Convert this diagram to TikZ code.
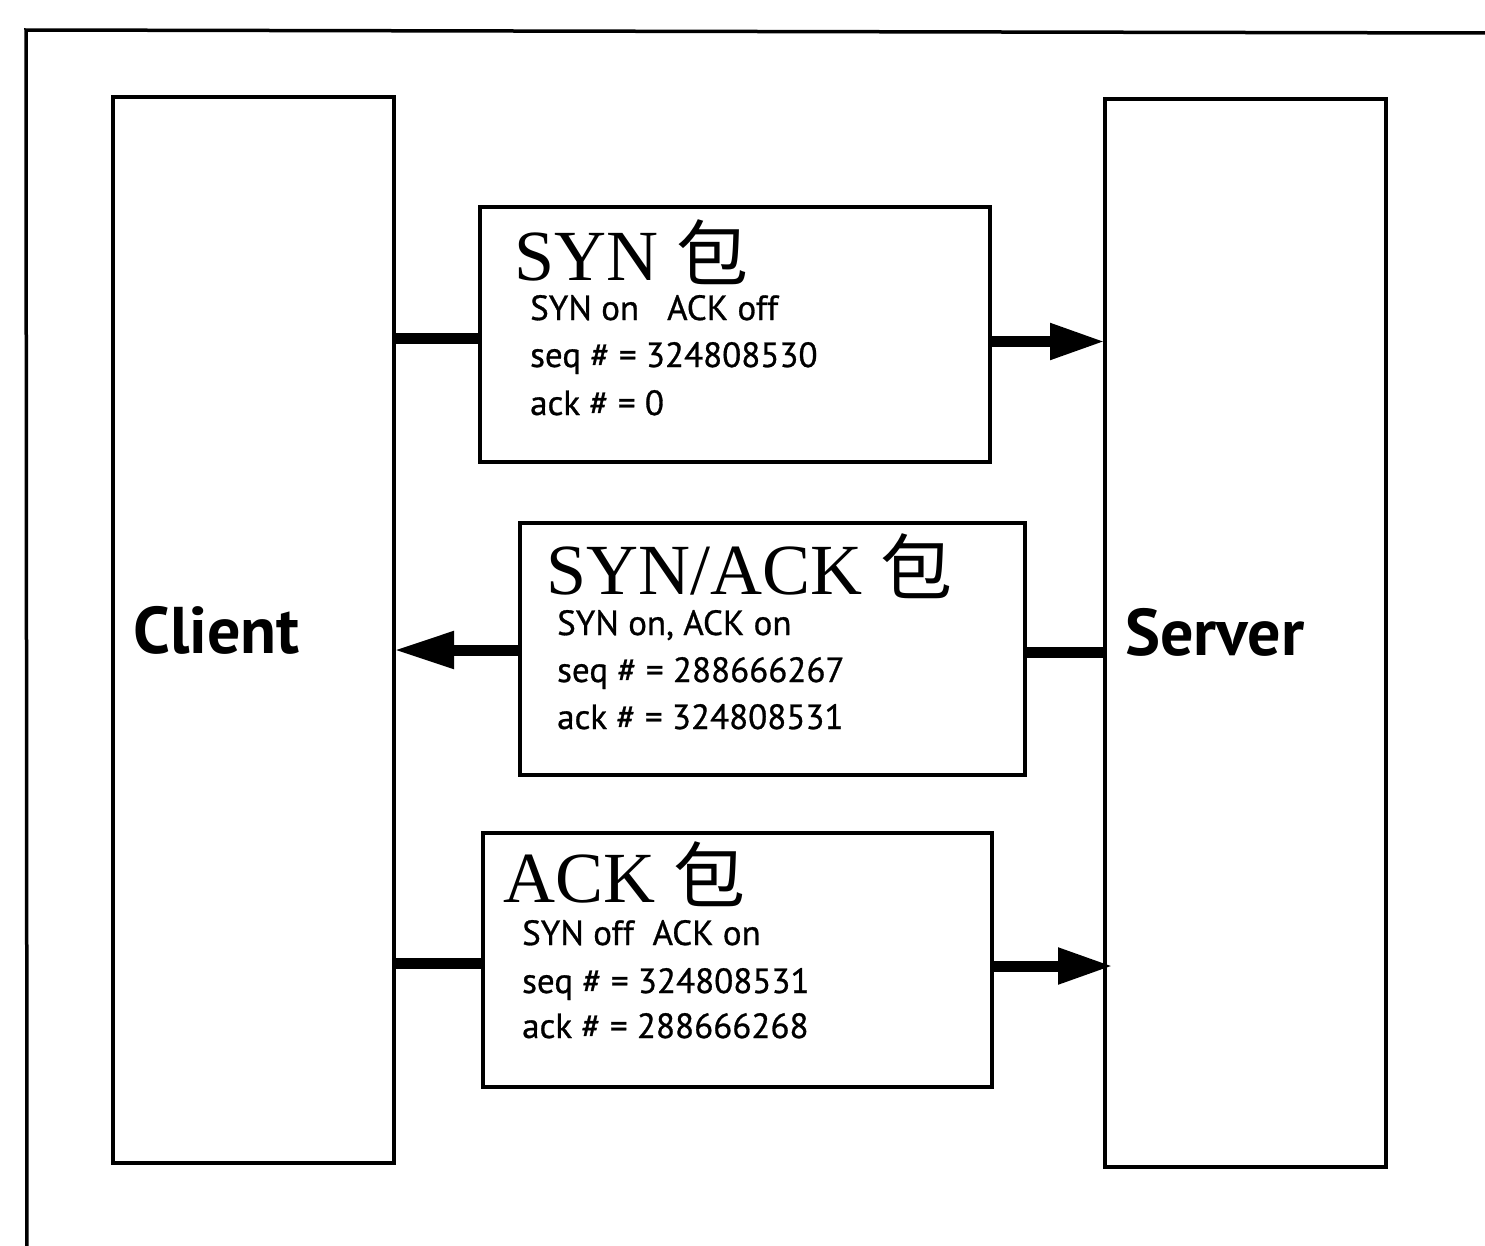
\documentclass[tikz,border=0pt]{standalone}
\usepackage{fontspec}
\setmainfont{Liberation Serif}
\newfontfamily\cjk{Noto Sans CJK SC}
\newfontfamily\fieldfont[FakeBold=0.8]{PT Sans}
\newfontfamily\hostfont{PT Sans}
\usetikzlibrary{arrows.meta}

\begin{document}
\begin{tikzpicture}[x=1pt,y=-1pt,
  frame/.style={line width=3.5pt},
  box/.style={draw, line width=3.5pt, inner sep=0pt, outer sep=0pt},
  conn/.style={line width=11pt},
  head/.style={-{Triangle[length=55pt,width=34pt]}},
  title/.style={anchor=base west, inner sep=0pt, font=\fontsize{72}{80}\selectfont},
  field/.style={anchor=base west, inner sep=0pt, font=\fieldfont\fontsize{35}{40}\selectfont},
  side/.style={anchor=base west, inner sep=0pt, font=\hostfont\bfseries\fontsize{66}{70}\selectfont},
]
\useasboundingbox (0,0) rectangle (1485,1245);
\fill[white] (0,0) rectangle (1485,1245);

% outer frame (runs off the page on the right and bottom)
\draw[frame] (1490,33) -- (26,30) -- (27,1250);

% hosts
\node[box, minimum width=281pt, minimum height=1066pt] (client) at (253.5,630) {};
\node[box, minimum width=281pt, minimum height=1068pt] (server) at (1245.5,633) {};
\node[side] (clientlbl) at (133,653) {Client};
\node[side] (serverlbl) at (1125,655) {Server};

% packets
\node[box, minimum width=510pt, minimum height=255pt] (syn) at (735,334.5) {};
\node[box, minimum width=505pt, minimum height=252pt] (synack) at (772.5,649) {};
\node[box, minimum width=509pt, minimum height=254pt] (ack) at (737.5,960) {};

% SYN packet text
\node[title] (syntitle) at (514,280) {SYN {\cjk 包}};
\node[field] (synf1) at (530,320) {SYN on\ \ \ ACK off};
\node[field] (synf2) at (530,367) {seq \# = 324808530};
\node[field] (synf3) at (530,415) {ack \# = 0};

% SYN/ACK packet text
\node[title] (synacktitle) at (546,594) {SYN/ACK {\cjk 包}};
\node[field] (synackf1) at (557,635) {SYN on, ACK on};
\node[field] (synackf2) at (557,682) {seq \# = 288666267};
\node[field] (synackf3) at (557,729) {ack \# = 324808531};

% ACK packet text
\node[title] (acktitle) at (503,902) {ACK {\cjk 包}};
\node[field] (ackf1) at (522,945) {SYN off\ \ ACK on};
\node[field] (ackf2) at (522,993) {seq \# = 324808531};
\node[field] (ackf3) at (522,1038) {ack \# = 288666268};

% connectors
\draw[conn] ([yshift=-4pt]syn.west -| client.east) -- ([yshift=-4pt]syn.west);
\draw[conn, head] ([yshift=-7pt]syn.east) -- ([yshift=-7pt]syn.east -| server.west);

\draw[conn] ([yshift=-3pt]synack.east -| server.west) -- ([yshift=-3pt]synack.east);
\draw[conn, -{Triangle[length=60pt,width=35pt]}] ([yshift=-1pt]synack.west) -- ([yshift=-1pt]synack.west -| client.east);

\draw[conn] ([yshift=-3pt]ack.west -| client.east) -- ([yshift=-3pt]ack.west);
\draw[conn, head] ([yshift=-6pt]ack.east) -- ([yshift=-6pt,xshift=8pt]ack.east -| server.west);
\end{tikzpicture}
\end{document}
